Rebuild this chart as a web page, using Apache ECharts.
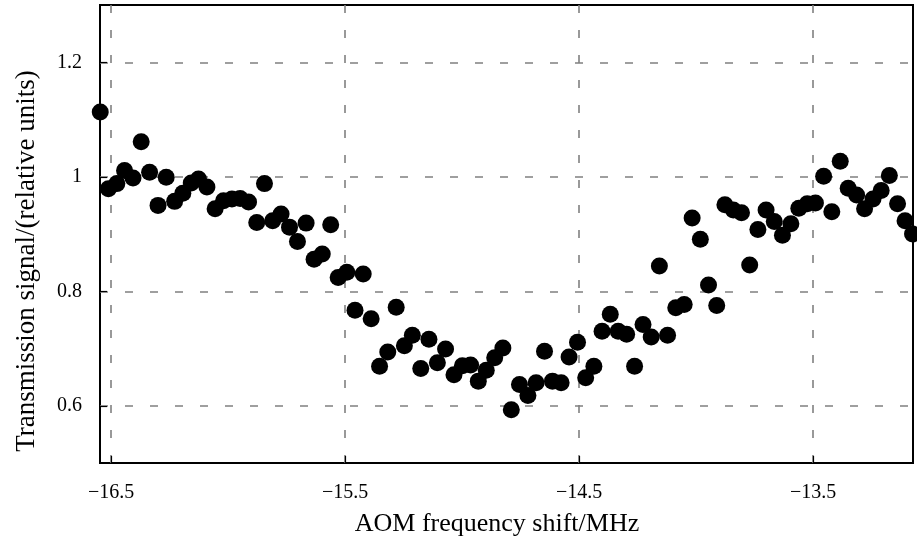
<!DOCTYPE html>
<html><head><meta charset="utf-8">
<script src="https://cdn.jsdelivr.net/npm/echarts@6/dist/echarts.min.js"></script>
<style>html,body{margin:0;padding:0;background:#fff}#c{width:917px;height:544px}</style>
</head><body><div id="c"></div>
<script>
const xTicks = [-16.5, -15.5, -14.5, -13.5];
const yTicks = [0.6, 0.8, 1.0, 1.2];
const freq = [
-16.547,-16.512,-16.476,-16.443,-16.407,-16.372,-16.336,-16.300,-16.265,-16.229,
-16.194,-16.158,-16.127,-16.091,-16.056,-16.020,-15.984,-15.949,-15.913,-15.878,
-15.845,-15.810,-15.774,-15.738,-15.704,-15.667,-15.633,-15.598,-15.562,-15.530,
-15.493,-15.458,-15.423,-15.389,-15.353,-15.318,-15.282,-15.247,-15.213,-15.177,
-15.142,-15.106,-15.071,-15.035,-14.999,-14.964,-14.931,-14.897,-14.861,-14.826,
-14.790,-14.755,-14.719,-14.684,-14.648,-14.614,-14.577,-14.543,-14.507,-14.472,
-14.437,-14.402,-14.367,-14.333,-14.297,-14.263,-14.227,-14.192,-14.157,-14.122,
-14.087,-14.051,-14.017,-13.982,-13.947,-13.912,-13.877,-13.841,-13.806,-13.771,
-13.736,-13.701,-13.666,-13.631,-13.595,-13.561,-13.525,-13.490,-13.455,-13.420,
-13.384,-13.350,-13.314,-13.280,-13.244,-13.209,-13.174,-13.139,-13.107,-13.075
];
const signal = [
1.113,0.979,0.988,1.011,0.998,1.061,1.008,0.950,0.999,0.957,
0.971,0.989,0.996,0.982,0.944,0.958,0.961,0.962,0.956,0.920,
0.988,0.923,0.935,0.912,0.887,0.919,0.856,0.865,0.916,0.824,
0.833,0.767,0.830,0.752,0.669,0.694,0.772,0.705,0.723,0.665,
0.716,0.675,0.699,0.654,0.670,0.671,0.643,0.662,0.684,0.701,
0.593,0.637,0.618,0.640,0.695,0.643,0.640,0.685,0.711,0.649,
0.669,0.730,0.760,0.730,0.725,0.669,0.742,0.720,0.844,0.723,
0.771,0.777,0.928,0.891,0.811,0.775,0.951,0.942,0.937,0.846,
0.908,0.942,0.922,0.898,0.918,0.945,0.953,0.954,1.001,0.939,
1.027,0.980,0.968,0.944,0.961,0.976,1.002,0.953,0.923,0.900
];
const xTitle = 'AOM frequency shift/MHz';
const yTitle = 'Transmission signal/(relative units)';

const font = 'Liberation Serif';
const fmt = v => {
  let s = (Math.round(v * 10) / 10).toString();
  if (s.charAt(0) === '-') s = '\u2212' + s.slice(1);
  return s;
};
const chart = echarts.init(document.getElementById('c'), null, {renderer: 'canvas'});
const data = freq.map((f, i) => [f, signal[i]]);
chart.setOption({
  animation: false,
  backgroundColor: '#fff',
  grid: {left: 100, right: 4, top: 5, bottom: 81, show: true, borderColor: '#000', borderWidth: 2, backgroundColor: 'transparent'},
  xAxis: {
    type: 'value', min: -16.548, max: -13.073,
    axisLine: {show: false},
    axisTick: {show: true, inside: true, length: 7, customValues: xTicks, lineStyle: {color: '#000', width: 1.2}},
    axisLabel: {customValues: xTicks, formatter: fmt, margin: 20, fontFamily: font, fontSize: 20, color: '#000'},
    splitLine: {show: true, lineStyle: {color: '#808080', type: [8, 17], width: 1.6}}
  },
  yAxis: {
    type: 'value', min: 0.5, max: 1.3,
    axisLine: {show: false},
    axisTick: {show: true, inside: true, length: 7, customValues: yTicks, lineStyle: {color: '#000', width: 1.2}},
    axisLabel: {customValues: yTicks, formatter: fmt, margin: 18, fontFamily: font, fontSize: 20, color: '#000'},
    splitLine: {show: true, lineStyle: {color: '#808080', type: [8, 17], width: 1.6}}
  },
  graphic: [
    {type: 'text', x: 497, y: 524, style: {text: xTitle, font: '26px "Liberation Serif"', fill: '#000', align: 'center', verticalAlign: 'middle'}},
    {type: 'text', x: 27, y: 261, rotation: Math.PI / 2, style: {text: yTitle, font: '27px "Liberation Serif"', fill: '#000', align: 'center', verticalAlign: 'middle'}}
  ],
  series: [{
    type: 'scatter', data: data, symbol: 'circle', symbolSize: 17, clip: false,
    itemStyle: {color: '#000', opacity: 1}, z: 5
  }]
});
</script>
</body></html>
